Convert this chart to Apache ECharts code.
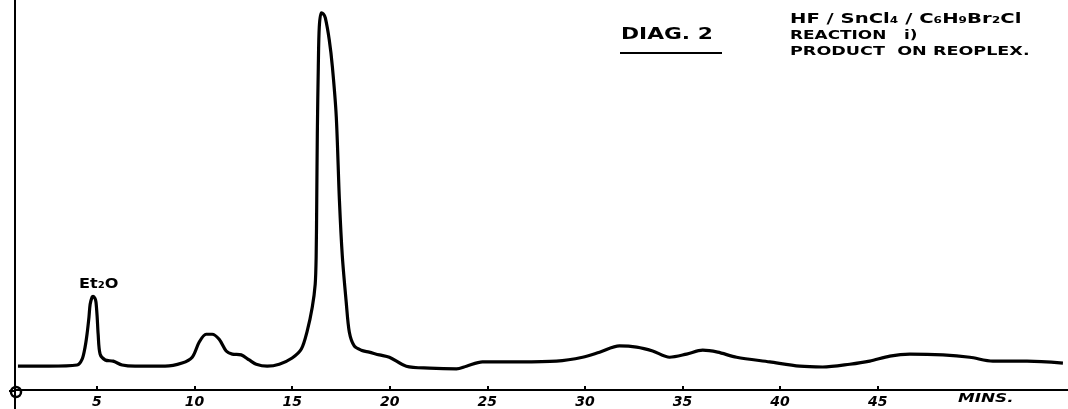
<!DOCTYPE html>
<html>
<head>
<meta charset="utf-8">
<script src="https://cdn.jsdelivr.net/npm/echarts@6/dist/echarts.min.js"></script>
<style>
html,body{margin:0;padding:0;background:#fff;}
#chart{width:1068px;height:409px;}
</style>
</head>
<body>
<div id="chart"></div>
<script>
// Retention time (minutes) and detector response (arbitrary units, 0 = chart zero line)
const timeMin = [0.95,2.54,3.98,4.24,4.39,4.49,4.59,4.65,4.75,4.80,4.90,4.95,5.01,5.06,5.16,5.42,5.83,6.29,6.95,8.49,9.36,9.88,10.24,10.59,10.90,11.26,11.62,11.93,12.39,12.80,13.16,13.72,14.34,15.00,15.47,15.77,16.03,16.18,16.23,16.26,16.29,16.34,16.39,16.49,16.60,16.70,16.90,17.06,17.26,17.42,17.57,17.77,17.93,18.18,18.54,18.95,19.47,19.98,20.85,22.03,23.42,23.93,24.75,26.65,28.54,29.88,30.75,31.77,32.65,33.47,34.34,35.21,36.03,36.80,37.77,39.47,41.01,42.18,43.57,44.59,45.62,46.65,48.34,49.72,50.90,52.65,54.49];
const response = [6.1,6.1,6.4,7.9,11.0,14.3,18.7,22.0,23.8,24.0,23.5,22.5,18.7,14.3,9.2,7.7,7.4,6.4,6.1,6.1,6.9,8.4,12.3,14.3,14.3,13.0,10.0,9.2,9.0,7.7,6.6,6.1,6.6,8.2,10.5,15.1,21.2,27.1,34.3,48.8,66.0,82.9,93.1,96.7,96.4,95.4,89.8,82.9,70.1,48.8,34.3,22.5,14.8,11.3,10.2,9.7,9.0,8.4,6.1,5.6,5.4,6.1,7.2,7.2,7.4,8.4,9.7,11.3,11.0,10.0,8.4,9.2,10.2,9.7,8.4,7.2,6.1,5.9,6.6,7.4,8.7,9.2,9.0,8.4,7.4,7.4,6.9];
const tickValues = [5,10,15,20,25,30,35,40,45];
const tickLabels = ['5','10','15','20','25','30','35','40','45'];
const axisUnit = 'MINS.';
const peakLabel = 'Et₂O';
const diagTitle = 'DIAG. 2';
const noteLines = ['HF / SnCl₄ / C₆H₉Br₂Cl', 'REACTION   i)', 'PRODUCT  ON REOPLEX.'];

const seriesData = timeMin.map((t, i) => [t, response[i]]);
const hand = '"DejaVu Sans", sans-serif';

const chart = echarts.init(document.getElementById('chart'), null, {renderer: 'canvas'});
chart.setOption({
  backgroundColor: '#ffffff',
  animation: false,
  grid: {left: 15, right: 0, top: 0, bottom: 18, containLabel: false},
  xAxis: {
    type: 'value', min: 0.8, max: 54.75,
    axisLine: {show: true, onZero: false, lineStyle: {color: '#000', width: 2}},
    axisTick: {show: true, inside: true, length: 4, customValues: tickValues, lineStyle: {color: '#000', width: 2}},
    axisLabel: {show: true, customValues: tickValues, margin: 5, color: '#000', fontSize: 14, fontWeight: 'bold', fontStyle: 'italic', fontFamily: hand,
      formatter: v => tickLabels[tickValues.indexOf(v)] || ''},
    splitLine: {show: false}
  },
  yAxis: {
    type: 'value', min: 0, max: 100,
    axisLine: {show: true, onZero: false, lineStyle: {color: '#000', width: 2}},
    axisTick: {show: false}, axisLabel: {show: false}, splitLine: {show: false}
  },
  series: [{
    type: 'line', data: seriesData, smooth: 0.3, showSymbol: false,
    lineStyle: {color: '#000', width: 3.2}
  }],
  graphic: [
    {type: 'line', shape: {x1: 15, y1: 391, x2: 15, y2: 409}, style: {stroke: '#000', lineWidth: 2}},
    {type: 'line', shape: {x1: 9, y1: 391, x2: 16, y2: 391}, style: {stroke: '#000', lineWidth: 2}},
    {type: 'circle', shape: {cx: 16, cy: 392, r: 5}, style: {fill: 'none', stroke: '#000', lineWidth: 2.5}},
    {type: 'text', x: 958, y: 393, scaleX: 1.4, style: {text: axisUnit, fill: '#000', font: 'bold italic 12px ' + hand}},
    {type: 'text', x: 79, y: 277, scaleX: 1.15, style: {text: peakLabel, fill: '#000', font: 'bold 14px ' + hand}},
    {type: 'text', x: 621, y: 28, scaleX: 1.45, style: {text: diagTitle, fill: '#000', font: 'bold 15px ' + hand}},
    {type: 'line', shape: {x1: 620, y1: 53, x2: 722, y2: 53}, style: {stroke: '#000', lineWidth: 2}},
    {type: 'text', x: 790, y: 12, scaleX: 1.4, style: {text: noteLines[0], fill: '#000', font: 'bold 14px ' + hand}},
    {type: 'text', x: 790, y: 29, scaleX: 1.3, style: {text: noteLines[1], fill: '#000', font: 'bold 13px ' + hand}},
    {type: 'text', x: 790, y: 45, scaleX: 1.35, style: {text: noteLines[2], fill: '#000', font: 'bold 13px ' + hand}}
  ]
});
</script>
</body>
</html>
